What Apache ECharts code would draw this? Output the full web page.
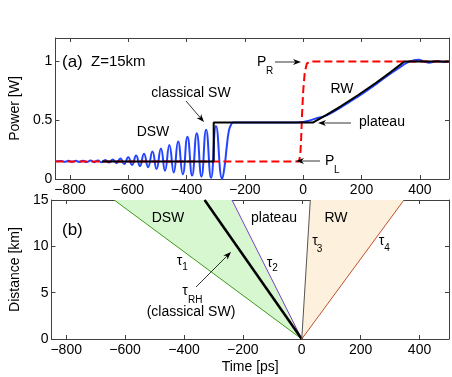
<!DOCTYPE html>
<html>
<head>
<meta charset="UTF-8">
<title>DSW / plateau / RW</title>
<script src="https://cdn.jsdelivr.net/npm/echarts@6/dist/echarts.min.js"></script>
<style>
html, body { margin: 0; padding: 0; background: #fff; }
#main { width: 452px; height: 377px; }
</style>
</head>
<body>
<div id="main"></div>
<script>
// tick labels
var timeTicks = [-800, -600, -400, -200, 0, 200, 400];
var powerTicks = [0, 0.5, 1];
var distTicks = [0, 5, 10, 15];

// (a) numerical solution (blue)
var blueT = [-850, -830, -818, -805, -793, -780, -768, -755, -742, -729, -717, -704, -692, -679, -666, -653, -640, -627, -614, -600,
  -587, -573, -560, -546, -532, -517, -503, -488, -474, -459, -444, -429, -413, -397, -381, -365, -349, -333, -316, -299,
  -278, -270, -262, -255, -248, -240, -150, -60, -20, 0, 20, 40, 80, 130, 190, 250, 300, 340, 360, 380,
  395, 415, 432, 447, 461, 475, 488, 500];
var blueP = [0.150, 0.154, 0.146, 0.155, 0.145, 0.155, 0.145, 0.156, 0.144, 0.157, 0.143, 0.158, 0.142, 0.162, 0.140, 0.167, 0.135, 0.175, 0.128, 0.185,
  0.120, 0.200, 0.110, 0.215, 0.100, 0.235, 0.085, 0.260, 0.070, 0.290, 0.055, 0.320, 0.040, 0.360, 0.030, 0.390, 0.020, 0.420, 0.010, 0.450,
  0.000, 0.100, 0.280, 0.410, 0.460, 0.480, 0.480, 0.480, 0.481, 0.486, 0.497, 0.512, 0.542, 0.612, 0.706, 0.808, 0.898, 0.965, 0.995, 1.010,
  1.014, 1.000, 0.990, 0.997, 1.004, 0.997, 0.995, 1.000];

// (a) initial step (red dashed)
var redT = [-850, -15, -10, -7, -4, 0, 5, 12, 22, 500];
var redP = [0.15, 0.15, 0.20, 0.35, 0.55, 0.75, 0.90, 0.98, 1.00, 1.00];

// (a) classical shock + rarefaction (black)
var blackT = [-690, -307, -307, 33, 80, 130, 190, 250, 300, 347, 500];
var blackP = [0.15, 0.15, 0.48, 0.48, 0.546, 0.621, 0.717, 0.819, 0.910, 1.0, 1.0];

// (b) characteristic lines, time at distance 0 and 15 km
var tauZ = [0, 15];
var tau1T = [0, -637];
var tau2T = [0, -237];
var tauRHT = [0, -330];
var tau3T = [0, 29];
var tau4T = [0, 347];

function pairs(xs, ys) {
  var out = [];
  for (var i = 0; i < xs.length; i++) out.push([xs[i], ys[i]]);
  return out;
}

var font = "'Liberation Sans', Arial, sans-serif";
var axisCol = '#404040';

function fmtMinus(v) {
  return String(v).replace('-', '\u2212');
}

function xAxisDef(gridIndex, pos, showLabel, name) {
  return {
    type: 'value', gridIndex: gridIndex, position: pos, min: -850, max: 500,
    name: name || '', nameLocation: 'middle', nameGap: 21,
    nameTextStyle: { fontFamily: font, fontSize: 14, color: '#000' },
    axisLine: { show: true, onZero: false, lineStyle: { color: axisCol, width: 1 } },
    axisTick: { show: true, inside: true, length: 4, customValues: timeTicks, lineStyle: { color: axisCol } },
    axisLabel: { show: showLabel, customValues: timeTicks, margin: 4, fontFamily: font, fontSize: 14, color: '#000', formatter: fmtMinus },
    splitLine: { show: false }
  };
}

function yAxisDef(gridIndex, pos, showLabel, max, ticks, name, gap) {
  return {
    type: 'value', gridIndex: gridIndex, position: pos, min: 0, max: max,
    name: name || '', nameLocation: 'middle', nameGap: gap || 30,
    nameTextStyle: { fontFamily: font, fontSize: 14, color: '#000' },
    axisLine: { show: true, onZero: false, lineStyle: { color: axisCol, width: 1 } },
    axisTick: { show: true, inside: true, length: 4, customValues: ticks, lineStyle: { color: axisCol } },
    axisLabel: { show: showLabel, customValues: ticks, margin: 3, fontFamily: font, fontSize: 14, color: '#000' },
    splitLine: { show: false }
  };
}

function fillSeries(ta, tb, color) {
  return {
    type: 'custom', xAxisIndex: 2, yAxisIndex: 2, z: 1, silent: true,
    data: [[0, 0]],
    renderItem: function (params, api) {
      var pts = [
        api.coord([ta[0], tauZ[0]]),
        api.coord([ta[1], tauZ[1]]),
        api.coord([tb[1], tauZ[1]])
      ];
      return { type: 'polygon', shape: { points: pts }, style: { fill: color } };
    }
  };
}

function tauLine(ts, color, width) {
  return {
    type: 'line', xAxisIndex: 2, yAxisIndex: 2, z: 3, silent: true,
    data: pairs(ts, tauZ), symbol: 'none',
    lineStyle: { color: color, width: width }
  };
}

// annotation helpers (pixel positions)
function txt(x, y, s, size, align) {
  return {
    type: 'text', x: x, y: y, z: 100,
    style: { text: s, fontFamily: font, fontSize: size || 14, fill: '#000', align: align || 'center', verticalAlign: 'middle' }
  };
}

function arrow(x1, y1, x2, y2) {
  var dx = x2 - x1, dy = y2 - y1, len = Math.sqrt(dx * dx + dy * dy);
  var ux = dx / len, uy = dy / len, nx = -uy, ny = ux;
  var L = 8, W = 3;
  return [
    { type: 'line', z: 100, shape: { x1: x1, y1: y1, x2: x2 - ux * 4, y2: y2 - uy * 4 }, style: { stroke: '#000', lineWidth: 0.8 } },
    { type: 'polygon', z: 100, shape: { points: [
      [x2, y2],
      [x2 - ux * L + nx * W, y2 - uy * L + ny * W],
      [x2 - ux * L * 0.7, y2 - uy * L * 0.7],
      [x2 - ux * L - nx * W, y2 - uy * L - ny * W]
    ] }, style: { fill: '#000' } }
  ];
}

var graphics = [
  txt(62, 62, '(a)', 17, 'left'),
  txt(91, 62, 'Z=15km', 15, 'left'),
  txt(191, 93, 'classical SW'),
  txt(153, 132, 'DSW'),
  txt(342, 89, 'RW'),
  txt(359, 122, 'plateau', 14, 'left'),
  txt(257, 62, 'P', 14, 'left'),
  txt(266, 71, 'R', 10, 'left'),
  txt(325, 161, 'P', 14, 'left'),
  txt(334, 170, 'L', 10, 'left'),
  txt(62, 230, '(b)', 17, 'left'),
  txt(168, 218, 'DSW'),
  txt(274, 218, 'plateau'),
  txt(336, 218, 'RW'),
  txt(179.5, 261, '\u03c4'), txt(185, 267, '1', 10),
  txt(269.5, 263, '\u03c4'), txt(275, 268, '2', 10),
  txt(315, 241.5, '\u03c4'), txt(319.5, 249, '3', 10),
  txt(381.5, 241.5, '\u03c4'), txt(387, 248, '4', 10),
  txt(185, 291.5, '\u03c4'), txt(188, 300, 'RH', 10, 'left'),
  txt(191, 312, '(classical SW)')
].concat(
  arrow(186, 101, 204, 122),
  arrow(351, 123, 318, 123),
  arrow(275, 62, 301, 62),
  arrow(320, 161, 296, 161),
  arrow(196, 287, 231, 252)
);

var option = {
  animation: false,
  backgroundColor: '#fff',
  grid: [
    { left: 47, right: 3, top: 38, height: 141 },
    { left: 47, right: 3, top: 200, height: 139 }
  ],
  xAxis: [
    xAxisDef(0, 'bottom', true),
    xAxisDef(0, 'top', false),
    xAxisDef(1, 'bottom', true, 'Time [ps]'),
    xAxisDef(1, 'top', false)
  ],
  yAxis: [
    yAxisDef(0, 'left', true, 1.2, powerTicks, 'Power [W]', 32),
    yAxisDef(0, 'right', false, 1.2, powerTicks),
    yAxisDef(1, 'left', true, 15, distTicks, 'Distance [km]', 29),
    yAxisDef(1, 'right', false, 15, distTicks)
  ],
  series: [
    {
      type: 'line', xAxisIndex: 0, yAxisIndex: 0, z: 2, silent: true,
      data: pairs(blueT, blueP), symbol: 'none', smooth: 0.5,
      lineStyle: { color: '#2244ff', width: 2 }
    },
    {
      type: 'line', xAxisIndex: 0, yAxisIndex: 0, z: 3, silent: true,
      data: pairs(redT, redP), symbol: 'none',
      lineStyle: { color: '#ff0000', width: 2, type: [8, 4] }
    },
    {
      type: 'line', xAxisIndex: 0, yAxisIndex: 0, z: 4, silent: true,
      data: pairs(blackT, blackP), symbol: 'none',
      lineStyle: { color: '#000', width: 2 }
    },
    fillSeries(tau1T, tau2T, '#d6f7d0'),
    fillSeries(tau3T, tau4T, '#fdf0dc'),
    tauLine(tau1T, '#3f9a1c', 1),
    tauLine(tau2T, '#7a3fc4', 1),
    tauLine(tauRHT, '#000', 2.5),
    tauLine(tau3T, '#555', 1),
    tauLine(tau4T, '#c0502a', 1)
  ],
  graphic: graphics
};

var chart = echarts.init(document.getElementById('main'));
chart.setOption(option);
</script>
</body>
</html>
